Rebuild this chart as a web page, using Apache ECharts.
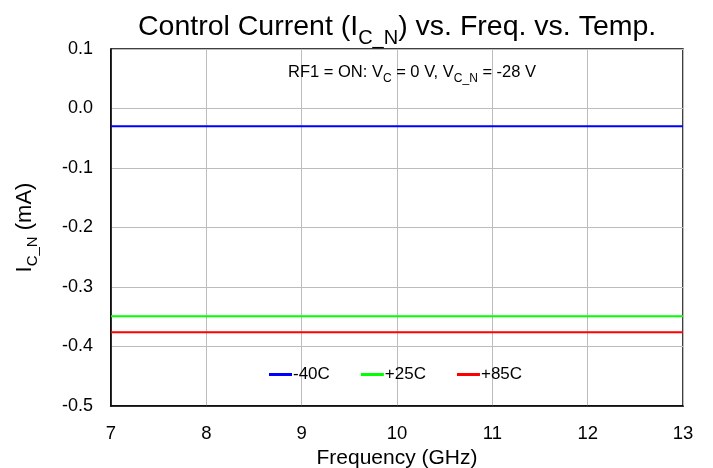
<!DOCTYPE html>
<html><head><meta charset="utf-8">
<script src="https://cdn.jsdelivr.net/npm/echarts@6/dist/echarts.min.js"></script>
<style>html,body{margin:0;padding:0;background:#fff}#c{width:713px;height:468px}</style>
</head><body><div id="c"></div>
<script>
const freqs = [7, 8, 9, 10, 11, 12, 13];
const seriesNames = ['-40C', '+25C', '+85C'];
const m40 = [-0.030, -0.030, -0.030, -0.030, -0.030, -0.030, -0.030];
const p25 = [-0.349, -0.349, -0.349, -0.349, -0.349, -0.349, -0.349];
const p85 = [-0.376, -0.376, -0.376, -0.376, -0.376, -0.376, -0.376];
const colors = ['#0000ff', '#00ff00', '#ff0000'];

const F = 'Liberation Sans, Arial, sans-serif';
const chart = echarts.init(document.getElementById('c'));
const mk = (vals) => freqs.map((f, i) => [f, vals[i]]);
chart.setOption({
  animation: false,
  textStyle: {fontFamily: F},
  title: {
    text: '{a|Control Current (I}{s|C_N}{a|) vs. Freq. vs. Temp.}',
    left: 133, top: 8,
    textStyle: {
      rich: {
        a: {fontFamily: F, fontSize: 28.5, fontWeight: 'normal', color: '#000', lineHeight: 36, verticalAlign: 'top'},
        s: {fontFamily: F, fontSize: 20, fontWeight: 'normal', color: '#000', lineHeight: 36, verticalAlign: 'top', padding: [15, 0, 0, 0]}
      }
    }
  },
  graphic: [{
    type: 'text', left: 288, top: 64, z: 10,
    style: {
      text: '{a|RF1 = ON: V}{s|C}{a| = 0 V, V}{s|C_N}{a| = -28 V}',
      rich: {
        a: {fontFamily: F, fontSize: 16.5, fill: '#000', lineHeight: 22, verticalAlign: 'top'},
        s: {fontFamily: F, fontSize: 12, fill: '#000', lineHeight: 22, verticalAlign: 'top', padding: [9, 0, 0, 0]}
      }
    }
  }],
  grid: {left: 111, right: 30, top: 49, bottom: 62, containLabel: false, outerBoundsMode: 'none',
    show: true, borderColor: '#000', borderWidth: 1.5},
  legend: {
    left: 264, top: 361, itemWidth: 23, itemHeight: 3, itemGap: 31,
    icon: 'rect',
    textStyle: {fontFamily: F, fontSize: 17, color: '#000', padding: [0, 0, 0, -4]},
    data: seriesNames
  },
  xAxis: {
    type: 'value', min: 7, max: 13, interval: 1,
    name: 'Frequency (GHz)', nameLocation: 'middle', nameGap: 37,
    nameTextStyle: {fontFamily: F, fontSize: 21, color: '#000'},
    axisLine: {show: true, onZero: false, lineStyle: {color: '#000', width: 1.5}},
    axisTick: {show: false},
    axisLabel: {fontFamily: F, fontSize: 18.5, color: '#000', margin: 18},
    splitLine: {show: true, lineStyle: {color: '#bcbcbc', width: 1}}
  },
  yAxis: {
    type: 'value', min: -0.5, max: 0.1, interval: 0.1,
    name: '{a|I}{s|C_N}{a| (mA)}', nameLocation: 'middle', nameGap: 69, nameRotate: 90,
    nameTextStyle: {
      rich: {
        a: {fontFamily: F, fontSize: 22, color: '#000', lineHeight: 28, verticalAlign: 'top'},
        s: {fontFamily: F, fontSize: 15, color: '#000', lineHeight: 28, verticalAlign: 'top', padding: [11, 0, 0, 0]}
      }
    },
    axisLine: {show: true, onZero: false, lineStyle: {color: '#000', width: 1.5}},
    axisTick: {show: false},
    axisLabel: {fontFamily: F, fontSize: 18, color: '#000', margin: 18,
      formatter: v => v.toFixed(1)},
    splitLine: {show: true, lineStyle: {color: '#bcbcbc', width: 1}}
  },
  series: [
    {name: seriesNames[0], type: 'line', data: mk(m40), showSymbol: false, symbol: 'none', lineStyle: {width: 2, color: colors[0]}, itemStyle: {color: colors[0]}},
    {name: seriesNames[1], type: 'line', data: mk(p25), showSymbol: false, symbol: 'none', lineStyle: {width: 2, color: colors[1]}, itemStyle: {color: colors[1]}},
    {name: seriesNames[2], type: 'line', data: mk(p85), showSymbol: false, symbol: 'none', lineStyle: {width: 2, color: colors[2]}, itemStyle: {color: colors[2]}}
  ]
});
</script></body></html>
